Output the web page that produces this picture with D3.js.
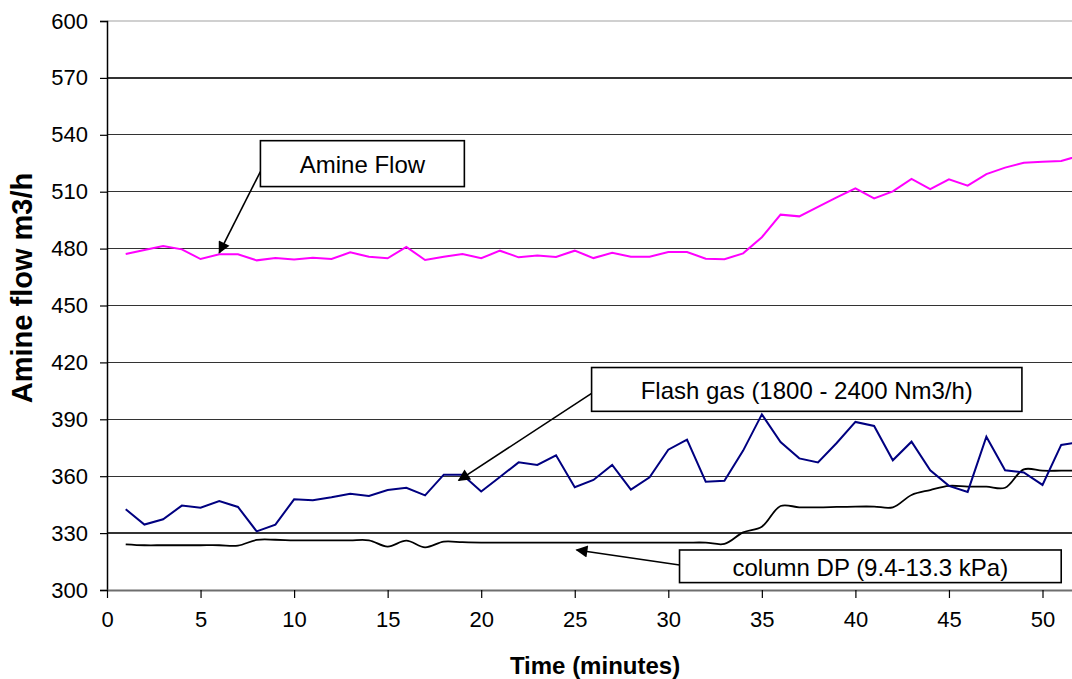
<!DOCTYPE html>
<html>
<head>
<meta charset="utf-8">
<script src="https://cdn.jsdelivr.net/npm/d3@7/dist/d3.min.js"></script>
<style>
  html, body { margin: 0; padding: 0; background: #fff; }
  svg { display: block; }
  text { font-family: "Liberation Sans", Arial, sans-serif; fill: #000; }
</style>
</head>
<body>
<svg id="chart" width="1072" height="679"></svg>
<script>
// ---- data ----
const time = [1,2,3,4,5,6,7,8,9,10,11,12,13,14,15,16,17,18,19,20,21,22,23,24,25,26,
              27,28,29,30,31,32,33,34,35,36,37,38,39,40,41,42,43,44,45,46,47,48,49,50,51,52];
const amineFlow = [477.2,479.3,481.4,479.6,474.5,477.0,477.0,473.8,475.0,474.2,475.2,474.5,478.0,
                   475.7,474.9,480.9,474.0,475.7,477.2,474.9,478.9,475.4,476.3,475.6,478.9,475.0,
                   477.8,475.7,475.7,478.2,478.2,474.7,474.4,477.5,486.0,497.9,497.0,502.0,507.0,
                   511.8,506.5,510.2,516.7,511.4,516.5,513.2,519.3,522.7,525.3,525.8,526.2,529.0];
const flashGas = [342.6,334.5,337.3,344.5,343.4,346.9,343.8,330.9,334.5,347.8,347.3,348.9,350.8,
                  349.6,352.7,353.9,349.9,360.8,360.8,351.9,359.6,367.3,365.9,371.0,354.2,358.0,
                  365.9,352.9,359.4,374.0,379.3,357.1,357.6,373.5,392.6,378.0,369.4,367.3,377.5,
                  388.6,386.5,368.4,378.2,363.1,354.9,351.7,380.8,363.1,362.0,355.4,376.5,378.0];
const columnDP = [324.1,323.6,323.6,323.6,323.6,323.6,323.4,326.4,326.5,326.2,326.2,326.2,326.2,
                  326.2,322.9,326.0,322.5,325.5,325.2,325.0,325.0,325.0,325.0,325.0,325.0,325.0,
                  325.0,325.0,325.0,325.0,325.0,325.0,324.3,330.4,333.4,344.3,343.6,343.6,343.8,
                  344.0,344.0,343.6,350.1,352.7,354.9,354.5,354.5,353.9,363.6,362.9,362.9,362.9];
const yTicks = [300,330,360,390,420,450,480,510,540,570,600];
const xTicks = [0,5,10,15,20,25,30,35,40,45,50];
const xTitle = "Time (minutes)";
const yTitle = "Amine flow m3/h";
// annotations: label, box [x0,x1] & [yTop,yBottom] in data units, arrow start & tip in data units
const annLabels = ["Amine Flow", "Flash gas (1800 - 2400 Nm3/h)", "column DP (9.4-13.3 kPa)"];
const annBoxX = [[8.2,19.1],[25.9,48.9],[30.6,51.0]];
const annBoxY = [[536.9,512.7],[417.3,394.2],[321.1,303.9]];
const annFrom = [[8.2,520.6],[25.9,403.7],[30.6,313.2]];
const annTip  = [[6.0,477.8],[18.8,357.8],[25.1,321.1]];

// ---- layout ----
const svg = d3.select("#chart");
const mLeft = 107, mTop = 21, mBottom = 590;
const x = d3.scaleLinear().domain([0, 55]).range([mLeft, mLeft + 18.71 * 55]);
const y = d3.scaleLinear().domain([300, 600]).range([mBottom, mTop]);
const W = 1072;

// gridlines
svg.append("g").selectAll("line").data(yTicks.filter(d => d > 300)).join("line")
  .attr("x1", mLeft).attr("x2", W)
  .attr("y1", d => y(d)).attr("y2", d => y(d))
  .attr("stroke", d => d === 600 ? "#d0d0d0" : "#333").attr("stroke-width", 1.3)
  .attr("shape-rendering", "crispEdges");

// y axis
const yAxis = svg.append("g").attr("transform", `translate(${mLeft},0)`)
  .call(d3.axisLeft(y).tickValues(yTicks).tickSize(7).tickPadding(12).tickFormat(d3.format("d")));
yAxis.select(".domain").attr("stroke", "#000").attr("stroke-width", 1.5);
yAxis.selectAll(".tick line").attr("stroke", "#000").attr("stroke-width", 1.2);
yAxis.selectAll("text").attr("font-size", 22).attr("font-family", "Liberation Sans, Arial, sans-serif");

// x axis
const xAxis = svg.append("g").attr("transform", `translate(0,${mBottom})`)
  .call(d3.axisBottom(x).tickValues(xTicks).tickSize(8).tickPadding(13).tickSizeOuter(0));
xAxis.select(".domain").attr("stroke", "#6e6e6e").attr("stroke-width", 2);
xAxis.selectAll(".tick line").attr("stroke", "#000").attr("stroke-width", 1.2);
xAxis.selectAll("text").attr("font-size", 22).attr("font-family", "Liberation Sans, Arial, sans-serif");

// series
const mk = (vals) => time.map((t, i) => [t, vals[i]]);
const lin = d3.line().x(d => x(d[0])).y(d => y(d[1]));
const smooth = d3.line().x(d => x(d[0])).y(d => y(d[1])).curve(d3.curveCatmullRom.alpha(0.5));

svg.append("path").datum(mk(columnDP)).attr("d", smooth)
  .attr("fill", "none").attr("stroke", "#000").attr("stroke-width", 1.8);
svg.append("path").datum(mk(flashGas)).attr("d", lin)
  .attr("fill", "none").attr("stroke", "#000080").attr("stroke-width", 2).attr("stroke-linejoin", "miter");
svg.append("path").datum(mk(amineFlow)).attr("d", lin)
  .attr("fill", "none").attr("stroke", "#ff00ff").attr("stroke-width", 2).attr("stroke-linejoin", "miter");

// arrow marker
svg.append("defs").append("marker")
  .attr("id", "arr").attr("viewBox", "0 0 10 10").attr("refX", 9).attr("refY", 5)
  .attr("markerWidth", 14).attr("markerHeight", 12).attr("markerUnits", "userSpaceOnUse")
  .attr("orient", "auto")
  .append("path").attr("d", "M0,0 L10,5 L0,10 z").attr("fill", "#000");

// annotations
annLabels.forEach((lab, i) => {
  const g = svg.append("g");
  g.append("line")
    .attr("x1", x(annFrom[i][0])).attr("y1", y(annFrom[i][1]))
    .attr("x2", x(annTip[i][0])).attr("y2", y(annTip[i][1]))
    .attr("stroke", "#000").attr("stroke-width", 1.6).attr("marker-end", "url(#arr)");
  const bx0 = x(annBoxX[i][0]), bx1 = x(annBoxX[i][1]);
  const by0 = y(annBoxY[i][0]), by1 = y(annBoxY[i][1]);
  g.append("rect").attr("x", bx0).attr("y", by0).attr("width", bx1 - bx0).attr("height", by1 - by0)
    .attr("fill", "#fff").attr("stroke", "#000").attr("stroke-width", 1.6);
  g.append("text").attr("x", (bx0 + bx1) / 2).attr("y", (by0 + by1) / 2 + 1)
    .attr("text-anchor", "middle").attr("dominant-baseline", "central")
    .attr("font-size", 24).text(lab);
});

// axis titles
svg.append("text").attr("x", 595).attr("y", 674).attr("text-anchor", "middle")
  .attr("font-size", 24).attr("font-weight", "bold").text(xTitle);
svg.append("text").attr("transform", `translate(32,288) rotate(-90)`).attr("text-anchor", "middle")
  .attr("font-size", 29).attr("font-weight", "bold").text(yTitle);
</script>
</body>
</html>
